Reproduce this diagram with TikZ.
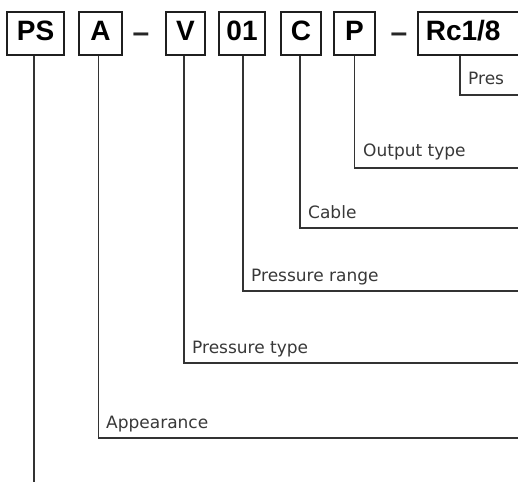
\documentclass[tikz,border=0pt]{standalone}
\usepackage{fontspec}
\setmainfont{DejaVu Sans}
\newfontfamily\codefont{Liberation Sans}
\begin{document}
\begin{tikzpicture}[x=1pt,y=-1pt,
  code/.style={draw=black!88, line width=1.7pt, minimum height=43pt, inner sep=0pt,
    font=\codefont\bfseries\fontsize{28}{28}\selectfont, text height=20pt, text depth=6pt},
  lead/.style={draw=black!80, line width=1.3pt},
  lbl/.style={anchor=base west, inner sep=0pt, text=black!78, font=\fontsize{17}{17}\selectfont},
  sepdash/.style={inner sep=0pt, anchor=base, text=black!85, font=\codefont\bfseries\fontsize{30}{30}\selectfont}
]
\useasboundingbox (0,0) rectangle (518,481);
% code boxes
\node[code, minimum width=57pt] (ps) at (35.5,33.5) {PS};
\node[code, minimum width=43pt] (a)  at (100.5,33.5) {A};
\node[sepdash] (d1) at (141,43) {–};
\node[code, minimum width=39pt] (v)  at (185.5,33.5) {V};
\node[code, minimum width=46pt] (r01) at (242,33.5) {01};
\node[code, minimum width=40pt] (c)  at (301,33.5) {C};
\node[code, minimum width=41pt] (p)  at (354.5,33.5) {P};
\node[sepdash] (d2) at (399,43) {–};
\node[code, anchor=west, text width=130pt, align=left, inner xsep=8pt] (rc) at (417,33.5) {Rc1/8};
% free ends
\coordinate (eRc) at (522,95);
\coordinate (eP)  at (522,168);
\coordinate (eC)  at (522,228);
\coordinate (e01) at (522,291);
\coordinate (eV)  at (522,363);
\coordinate (eA)  at (522,438);
\coordinate (ePS) at (34,483);
% leaders
\draw[lead] ([xshift=43pt]rc.south west) |- (eRc);
\draw[lead] (p.south) |- (eP);
\draw[lead] ([xshift=-1pt]c.south) |- (eC);
\draw[lead] ([xshift=1pt]r01.south) |- (e01);
\draw[lead] ([xshift=-1.5pt]v.south) |- (eV);
\draw[lead] ([xshift=-2pt]a.south) |- (eA);
\draw[lead] ([xshift=-1.5pt]ps.south) -- (ePS);
% labels
\node[lbl] (lRc) at (468,85) {Pres};
\node[lbl] (lP)  at (363,157) {Output type};
\node[lbl] (lC)  at (308,218) {Cable};
\node[lbl] (l01) at (251,281) {Pressure range};
\node[lbl] (lV)  at (192,353) {Pressure type};
\node[lbl] (lA)  at (106,428) {Appearance};
\end{tikzpicture}
\end{document}
